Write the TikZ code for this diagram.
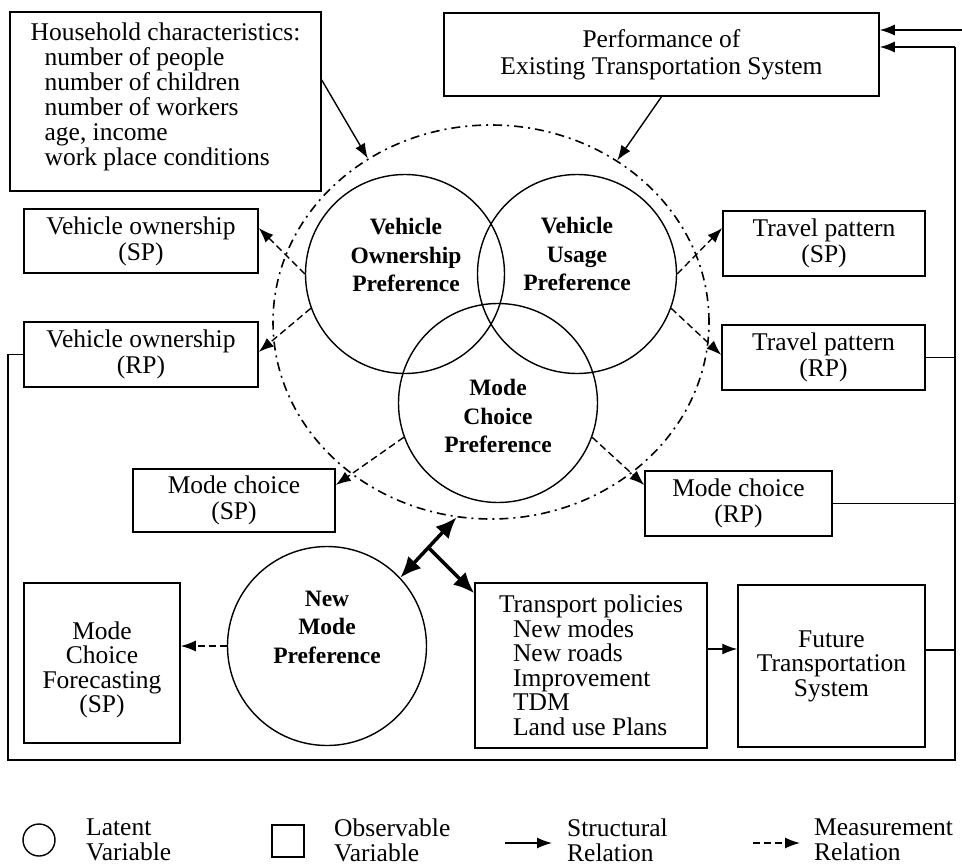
\documentclass[tikz,border=0pt]{standalone}
\usepackage{fontspec}
\setmainfont{Liberation Serif}
\usetikzlibrary{arrows.meta,shapes.geometric,calc}
\begin{document}
\begin{tikzpicture}[x=1pt,y=-1pt,
  box/.style={draw, line width=1.5pt, inner sep=0pt, font=\fontsize{25.5}{26}\selectfont, align=center},
  txt/.style={inner sep=0pt, font=\fontsize{25.5}{25}\selectfont},
  lat/.style={draw, circle, line width=1.4pt, inner sep=0pt, minimum size=199pt},
  ltxt/.style={font=\fontsize{23.5}{28.5}\selectfont\bfseries, align=center, inner sep=0pt},
  legtxt/.style={font=\fontsize{25.5}{25}\selectfont, align=left, inner sep=0pt, anchor=west},
  sarr/.style={line width=1.4pt, -{Latex[length=15pt,width=11pt]}},
  marr/.style={line width=1.4pt, dash pattern=on 7pt off 4pt, -{Latex[length=15pt,width=11pt]}},
  tarr/.style={line width=3.5pt, -{Latex[length=21pt,width=18pt]}},
  darr/.style={line width=3.5pt, {Latex[length=21pt,width=18pt]}-{Latex[length=21pt,width=18pt]}},
  fb/.style={line width=1.5pt},
]
\useasboundingbox (0,0) rectangle (962,865);
\fill[white] (0,0) rectangle (962,865);

% boxes
\node[box, minimum width=311pt, minimum height=179pt] (hh) at (165.5,101.5) {};
\node[txt, align=left] (hht) at (165.5,96.5)
 {Household characteristics:\\\hspace*{14pt}number of people\\\hspace*{14pt}number of children\\\hspace*{14pt}number of workers\\\hspace*{14pt}age, income\\\hspace*{14pt}work place conditions};
\node[box, minimum width=435pt, minimum height=83pt, font=\fontsize{25.5}{27}\selectfont] (perf) at (661.5,54.5) {Performance of\\Existing Transportation System};
\node[box, minimum width=234pt, minimum height=64pt] (vosp) at (141,241) {Vehicle ownership\\(SP)};
\node[box, minimum width=234pt, minimum height=65pt] (vorp) at (141,354.5) {Vehicle ownership\\(RP)};
\node[box, minimum width=202pt, minimum height=65pt] (tpsp) at (824,243.5) {Travel pattern\\(SP)};
\node[box, minimum width=203pt, minimum height=65pt] (tprp) at (823.5,357.5) {Travel pattern\\(RP)};
\node[box, minimum width=202pt, minimum height=63pt] (mcsp) at (234,500.5) {Mode choice\\(SP)};
\node[box, minimum width=187pt, minimum height=65pt] (mcrp) at (738.5,503.5) {Mode choice\\(RP)};
\node[box, minimum width=156pt, minimum height=160pt] (mcf) at (102,663) {};
\node[txt, align=center, font=\fontsize{25.5}{24.5}\selectfont] (mcft) at (102,670) {Mode\\Choice\\Forecasting\\(SP)};
\node[box, minimum width=232pt, minimum height=165pt, align=left, font=\fontsize{25.5}{24.5}\selectfont] (tp) at (591,665.5)
 {Transport policies\\\hspace*{14pt}New modes\\\hspace*{14pt}New roads\\\hspace*{14pt}Improvement\\\hspace*{14pt}TDM\\\hspace*{14pt}Land use Plans};
\node[box, minimum width=187pt, minimum height=162pt, font=\fontsize{25.5}{24.5}\selectfont] (fut) at (831.5,666) {Future\\Transportation\\System};

% latent variables
\node[lat] (vo) at (405,274) {};
\node[lat] (vu) at (577,274) {};
\node[lat] (mc) at (498,403) {};
\node[lat] (nm) at (327,646) {};
\node[draw, ellipse, line width=1.6pt, dash pattern=on 9pt off 5pt on 2pt off 5pt, inner sep=0pt, minimum width=436pt, minimum height=394pt] (ell) at (491,322) {};

\node[ltxt] (vot) at (406,255) {Vehicle\\Ownership\\Preference};
\node[ltxt] (vut) at (577,254) {Vehicle\\Usage\\Preference};
\node[ltxt] (mct) at (498,416) {Mode\\Choice\\Preference};
\node[ltxt] (nmt) at (327,627) {New\\Mode\\Preference};

% structural arrows into the ellipse
\draw[sarr] ([yshift=21.5pt]hh.east) -- (ell.127.4);
\draw[sarr] (perf.south) -- (ell.52.7);

% measurement arrows
\draw[marr] (vo.180) -- ([yshift=13pt]vosp.east);
\draw[marr] (vo.200) -- ([yshift=2.5pt]vorp.east);
\draw[marr] (vu.0) -- ([yshift=15.5pt]tpsp.west);
\draw[marr] (vu.-20) -- ([yshift=2.5pt]tprp.west);
\draw[marr] (mc.200) -- ([yshift=15.5pt]mcsp.east);
\draw[marr] (mc.-20) -- ([yshift=18.5pt]mcrp.west);
\draw[marr] (nm.west) -- (nm.west -| mcf.east);

% thick double arrow and branch
\coordinate (da) at (ell.260.4);
\coordinate (db) at (nm.43);
\draw[darr] (da) -- (db);
\coordinate (dm) at ($(da)!0.5!(db)$);
\draw[tarr] (dm) -- ([yshift=-11pt]tp.north west);

% policies to future
\draw[sarr] ([yshift=16.5pt]tp.east) -- ([yshift=16.5pt]tp.east -| fut.west);

% feedback loop
\coordinate (fr1) at (955,47);
\coordinate (fr2) at (955,760);
\coordinate (fl) at (8,760);
\coordinate (fe) at (962,30);
\draw[fb] (vorp.west) -- (vorp.west -| fl) -- (fl) -- (fr2) -- (fr1);
\draw[sarr] (fr1) -- (fr1 -| perf.east);
\draw[sarr] (fe) -- (fe -| perf.east);
\draw[fb] (tprp.east) -- (tprp.east -| fr1);
\draw[fb] (mcrp.east) -- (mcrp.east -| fr1);
\draw[fb] ([yshift=16pt]fut.east) -- ([yshift=16pt]fut.east -| fr1);

% legend
\node[draw, circle, line width=1.4pt, inner sep=0pt, minimum size=32pt] (lc) at (39,840) {};
\node[legtxt] (lct) at (86,840) {Latent\\Variable};
\node[draw, line width=1.4pt, inner sep=0pt, minimum size=32pt] (ls) at (288,841) {};
\node[legtxt] (lst) at (334,840) {Observable\\Variable};
\coordinate (s1) at (505,843);
\coordinate (s2) at (552,843);
\draw[sarr] (s1) -- (s2);
\node[legtxt] (lsr) at (567,840) {Structural\\Relation};
\coordinate (m1) at (753,843);
\coordinate (m2) at (800,843);
\draw[marr] (m1) -- (m2);
\node[legtxt] (lmr) at (814,840) {Measurement\\Relation};
\end{tikzpicture}
\end{document}
